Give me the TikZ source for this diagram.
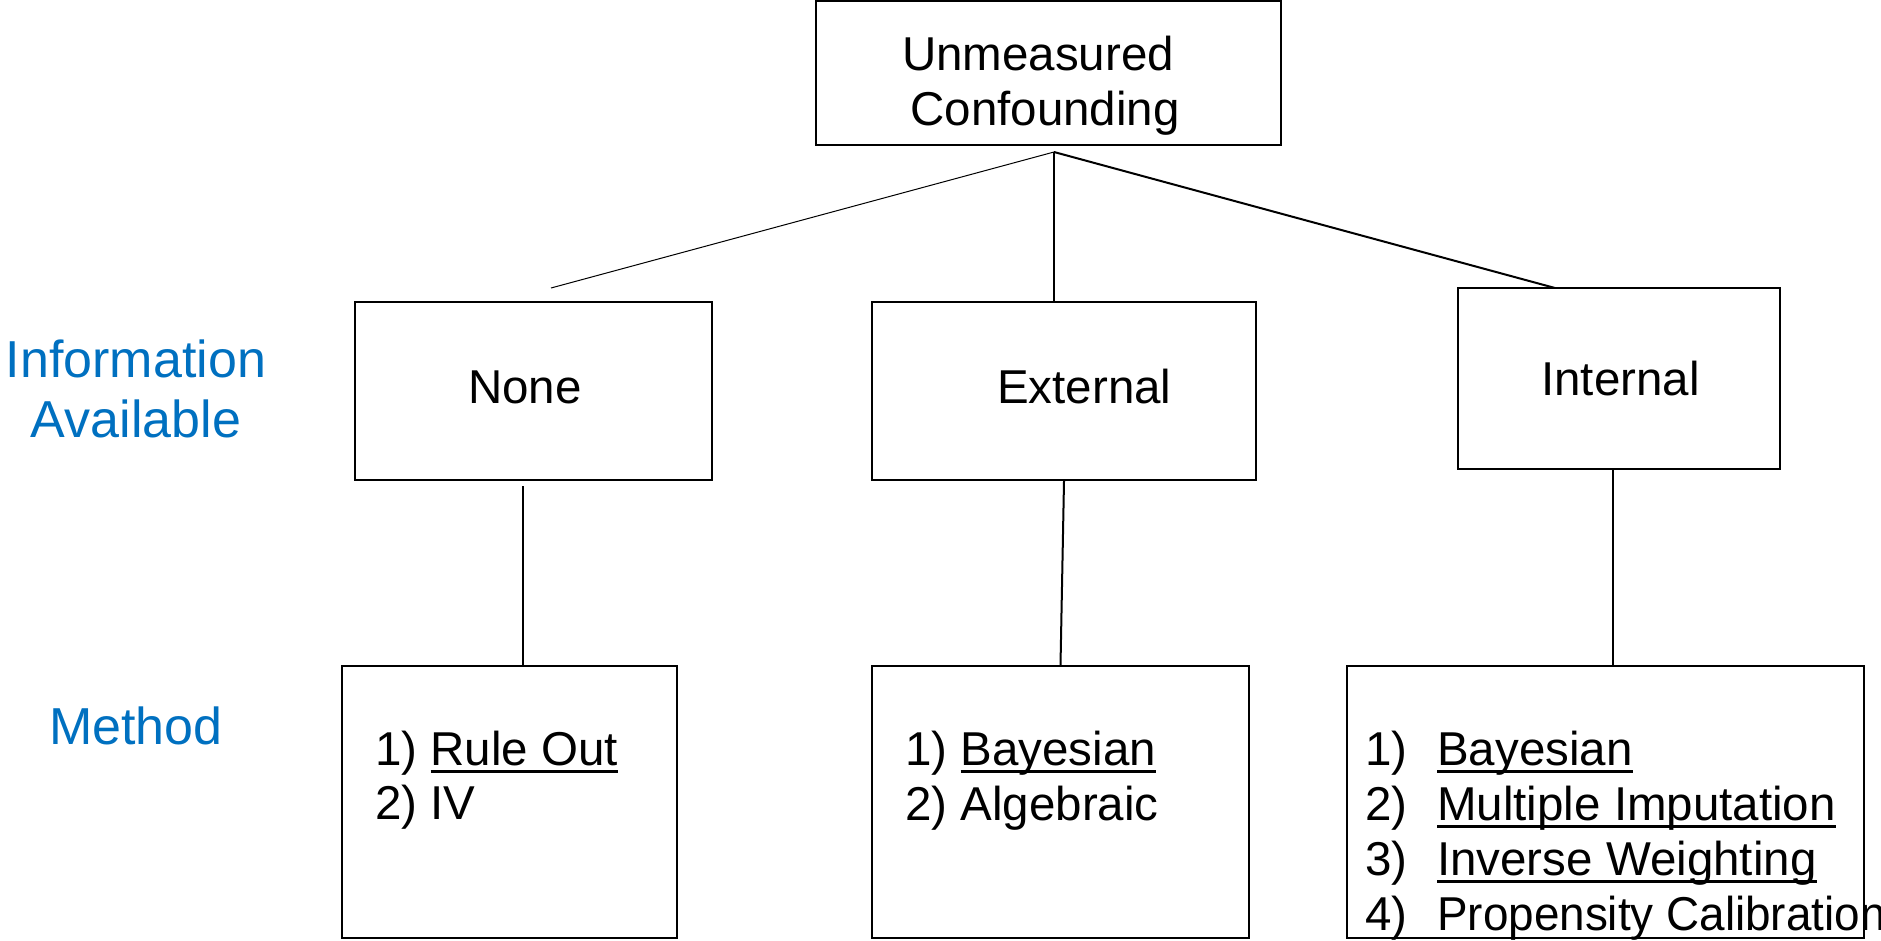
\documentclass[tikz,border=0pt]{standalone}
\usepackage{fontspec}
\setmainfont{Liberation Sans}
\definecolor{infoblue}{HTML}{0070C0}
\newcommand\ulx[1]{\setbox0\hbox{#1}\rlap{\rule[-8pt]{\wd0}{3pt}}\box0}
\newcommand\numx[1]{\makebox[72pt][l]{#1}}
\begin{document}
\begin{tikzpicture}[x=1pt,y=-1pt,
  box/.style={draw,line width=2pt,rectangle,inner sep=0pt},
  txt/.style={inner sep=0pt,anchor=base west,font=\fontsize{47.5}{55}\selectfont},
  ctxt/.style={inner sep=0pt,anchor=base,font=\fontsize{47.5}{55}\selectfont},
  infotxt/.style={inner sep=0pt,anchor=base,text=infoblue,font=\fontsize{52}{60}\selectfont},
  conn/.style={line width=2pt},
  thinconn/.style={line width=1pt}]
\useasboundingbox (0,0) rectangle (1881,940);
% boxes
\node[box,minimum width=465pt,minimum height=144pt] (top) at (1048.5,73) {};
\node[box,minimum width=357pt,minimum height=178pt] (none) at (533.5,391) {};
\node[box,minimum width=384pt,minimum height=178pt] (ext) at (1064,391) {};
\node[box,minimum width=322pt,minimum height=181pt] (int) at (1619,378.5) {};
\node[box,minimum width=335pt,minimum height=272pt] (m1) at (509.5,802) {};
\node[box,minimum width=377pt,minimum height=272pt] (m2) at (1060.5,802) {};
\node[box,minimum width=517pt,minimum height=272pt] (m3) at (1605.5,802) {};
% box texts
\node[ctxt] (t1) at (1038,70) {Unmeasured};
\node[ctxt] (t2) at (1045,125) {Confounding};
\node[txt] (tnone) at (468,403) {None};
\node[txt] (text) at (997,403) {External};
\node[txt] (tint) at (1541,395) {Internal};
% side labels
\node[infotxt] (info1) at (136,377) {Information};
\node[infotxt] (info2) at (136,437) {Available};
\node[infotxt] (meth) at (136,744) {Method};
% lists
\node[txt] (a1) at (375,765) {1) \ulx{Rule Out}};
\node[txt] (a2) at (375,819) {2) IV};
\node[txt] (b1) at (905,765) {1) \ulx{Bayesian}};
\node[txt] (b2) at (905,820) {2) Algebraic};
\node[txt] (c1) at (1365,765) {\numx{1)}\ulx{Bayesian}};
\node[txt] (c2) at (1365,820) {\numx{2)}\ulx{Multiple Imputation}};
\node[txt] (c3) at (1365,875) {\numx{3)}\ulx{Inverse Weighting}};
\node[txt] (c4) at (1365,930) {\numx{4)}\scalebox{0.965}[1]{Propensity Calibration}};
% connectors
\coordinate (apex) at (1054,152);
\coordinate (lend) at (551,288);
\coordinate (rend) at (1555,288);
\coordinate (nb) at (523,486);
\coordinate (ib) at (1613,469);
\draw[thinconn] (apex) -- (lend);
\draw[conn] (apex) -- (apex |- ext.north);
\draw[conn] (apex) -- (rend);
\draw[conn] (nb) -- (nb |- m1.north);
\draw[conn] (ext.south) -- (m2.north);
\draw[conn] (ib) -- (ib |- m3.north);
\end{tikzpicture}
\end{document}
